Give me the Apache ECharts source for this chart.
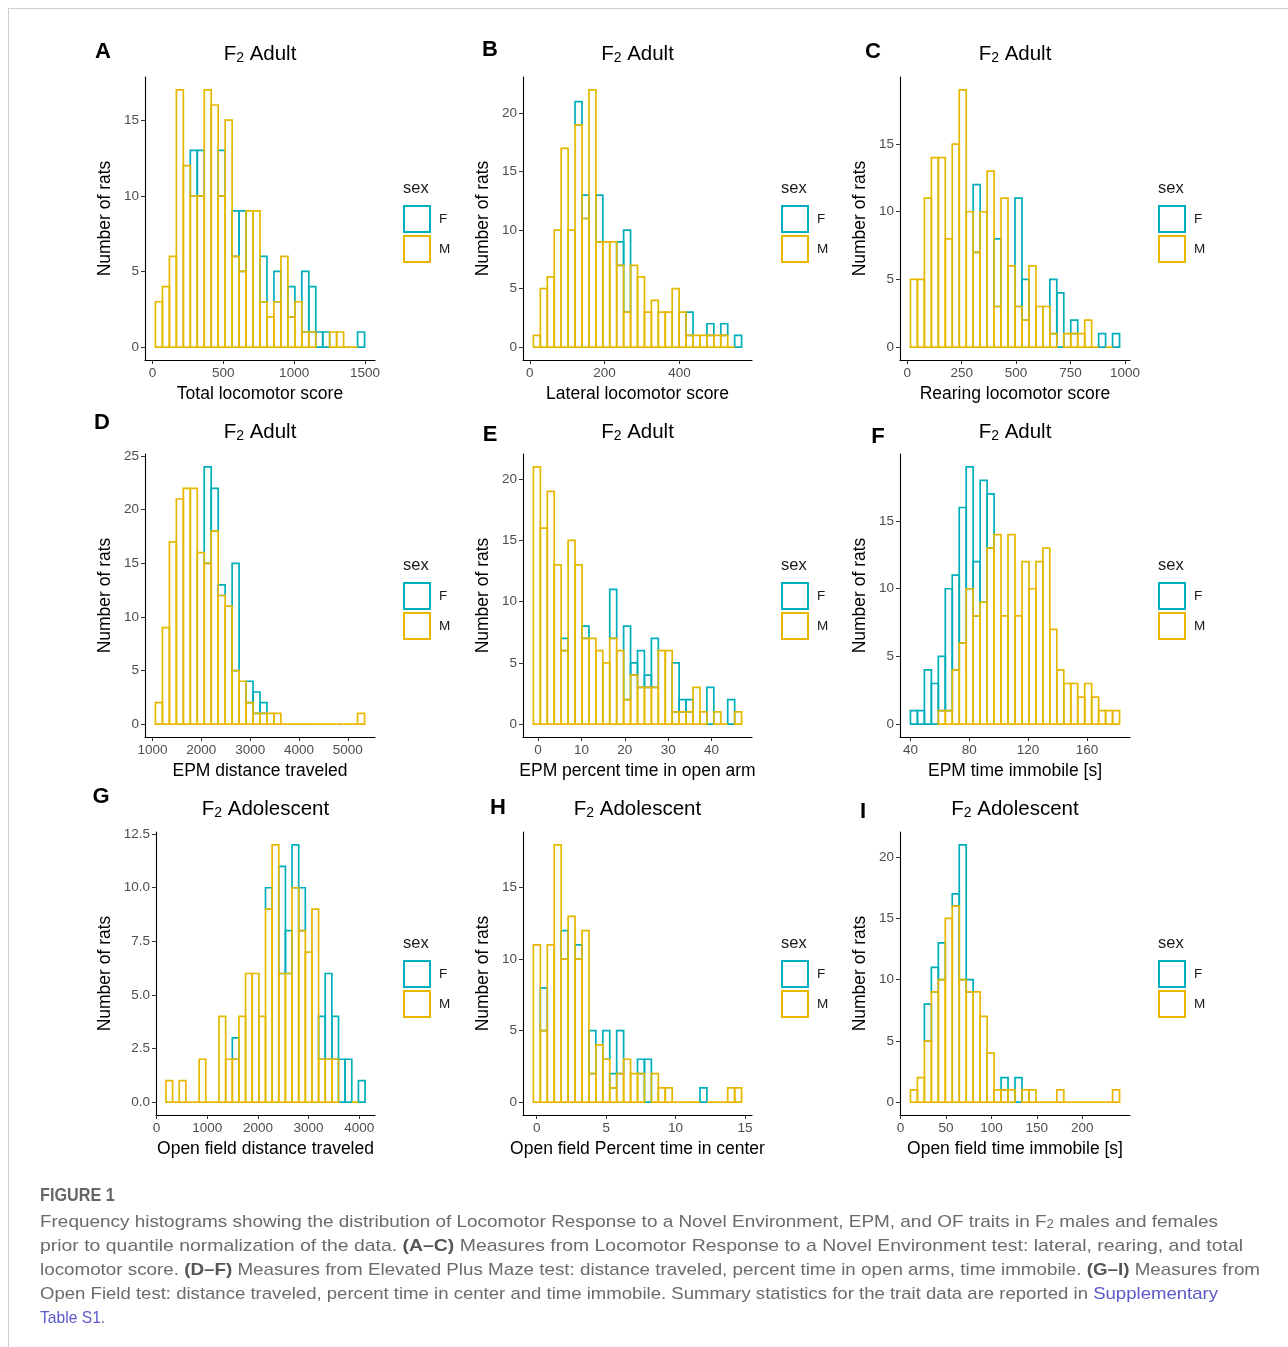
<!DOCTYPE html>
<html><head><meta charset="utf-8">
<script src="https://cdn.jsdelivr.net/npm/echarts@6/dist/echarts.min.js"></script>
<style>html,body{margin:0;padding:0;background:#fff}#c{width:1288px;height:1347px}</style>
</head><body><div id="c"></div><script>
// ---------------- DATA (counts per bin; F stacked on top of M) ----------------
const A_START = 21,   A_WIDTH = 49.2;
const A_M = [3,4,6,17,12,10,10,17,16,10,15,6,5,9,9,3,2,3,6,2,3,1,1,0,0,1,1,0,0,0];
const A_F = [0,0,0,0,0,3,3,0,0,3,0,3,4,0,0,3,0,2,0,2,0,4,3,1,1,0,0,0,0,1];
const A_XTICKS = [0,500,1000,1500];          const A_YTICKS = [0,5,10,15];

const B_START = 9.7,  B_WIDTH = 18.55;
const B_M = [1,5,6,10,17,10,19,11,22,9,9,9,7,3,7,6,3,4,3,3,5,3,1,1,1,1,1,1,0,0];
const B_F = [0,0,0,0,0,0,2,2,0,4,0,0,2,7,0,0,0,0,0,0,0,0,2,0,0,1,0,1,0,1];
const B_XTICKS = [0,200,400];                const B_YTICKS = [0,5,10,15,20];

const C_START = 15,   C_WIDTH = 32;
const C_M = [5,5,11,14,14,8,15,19,10,7,10,13,3,11,6,3,2,6,3,3,1,0,1,1,1,2,0,0,0,0];
const C_F = [0,0,0,0,0,0,0,0,0,5,0,0,5,0,0,8,3,0,0,0,4,4,0,1,0,0,0,1,0,1];
const C_XTICKS = [0,250,500,750,1000];       const C_YTICKS = [0,5,10,15];

const D_START = 1061, D_WIDTH = 142.7;
const D_M = [2,9,17,21,22,22,16,15,18,12,11,5,4,2,1,1,1,1,0,0,0,0,0,0,0,0,0,0,0,1];
const D_F = [0,0,0,0,0,0,0,9,4,1,0,10,0,2,2,1,0,0,0,0,0,0,0,0,0,0,0,0,0,0];
const D_XTICKS = [1000,2000,3000,4000,5000]; const D_YTICKS = [0,5,10,15,20,25];

const E_START = -1.07, E_WIDTH = 1.6;
const E_M = [21,16,19,13,6,15,13,7,7,6,5,7,6,2,4,3,3,3,6,6,1,1,1,3,1,0,1,0,0,1];
const E_F = [0,0,0,0,1,0,0,1,0,0,0,4,0,6,1,3,1,4,0,0,4,1,1,0,0,3,0,0,2,0];
const E_XTICKS = [0,10,20,30,40];            const E_YTICKS = [0,5,10,15,20];

const F_START = 40,   F_WIDTH = 4.74;
const F_M = [0,0,0,0,1,1,4,6,10,8,9,13,14,8,14,8,12,10,12,13,7,4,3,3,2,3,2,1,1,1];
const F_F = [1,1,4,3,4,9,7,10,9,4,9,4,0,0,0,0,0,0,0,0,0,0,0,0,0,0,0,0,0,0];
const F_XTICKS = [40,80,120,160];            const F_YTICKS = [0,5,10,15];

const G_START = 185,  G_WIDTH = 131;
const G_M = [1,0,1,0,0,2,0,0,4,2,2,4,6,6,4,9,12,6,6,10,8,7,9,2,2,2,0,0,0,0];
const G_F = [0,0,0,0,0,0,0,0,0,0,1,0,0,0,0,1,0,5,2,2,2,0,0,2,4,2,2,2,0,1];
const G_XTICKS = [0,1000,2000,3000,4000];    const G_YTICKS = [0,2.5,5,7.5,10,12.5];

const H_START = -0.24, H_WIDTH = 0.5;
const H_M = [11,5,11,18,10,13,10,12,2,4,3,1,2,3,2,2,0,2,1,1,0,0,0,0,0,0,0,0,1,1];
const H_F = [0,3,0,0,2,0,1,0,3,0,2,1,3,0,0,1,3,0,0,0,0,0,0,0,1,0,0,0,0,0];
const H_XTICKS = [0,5,10,15];                const H_YTICKS = [0,5,10,15];

const I_START = 10.9, I_WIDTH = 7.67;
const I_M = [1,2,5,9,10,15,16,10,9,9,7,4,1,1,1,0,1,1,0,0,0,1,0,0,0,0,0,0,0,1];
const I_F = [0,0,3,2,3,0,1,11,1,0,0,0,0,1,0,2,0,0,0,0,0,0,0,0,0,0,0,0,0,0];
const I_XTICKS = [0,50,100,150,200];         const I_YTICKS = [0,5,10,15,20];

const X_NAMES = ['Total locomotor score','Lateral locomotor score','Rearing locomotor score',
  'EPM distance traveled','EPM percent time in open arm','EPM time immobile [s]',
  'Open field distance traveled','Open field Percent time in center','Open field time immobile [s]'];
const STAGES = ['Adult','Adult','Adult','Adult','Adult','Adult','Adolescent','Adolescent','Adolescent'];
const LETTERS = ['A','B','C','D','E','F','G','H','I'];
const SEXES = ['F','M'];

// ---------------- LAYOUT ----------------
const COL_LEFT = [[145,523,900],[145,523,900],[156,523,900]];
const COL_RIGHT = [375,752,1130];
const ROW_TOP = [77,454,832];
const PANEL_H = 283;
const COLORS = {F:'#00AFBB', M:'#E7B800'};
const FONT = 'Liberation Sans, Arial, sans-serif';

const panels = [
  [A_START,A_WIDTH,A_M,A_F,A_XTICKS,A_YTICKS],
  [B_START,B_WIDTH,B_M,B_F,B_XTICKS,B_YTICKS],
  [C_START,C_WIDTH,C_M,C_F,C_XTICKS,C_YTICKS],
  [D_START,D_WIDTH,D_M,D_F,D_XTICKS,D_YTICKS],
  [E_START,E_WIDTH,E_M,E_F,E_XTICKS,E_YTICKS],
  [F_START,F_WIDTH,F_M,F_F,F_XTICKS,F_YTICKS],
  [G_START,G_WIDTH,G_M,G_F,G_XTICKS,G_YTICKS],
  [H_START,H_WIDTH,H_M,H_F,H_XTICKS,H_YTICKS],
  [I_START,I_WIDTH,I_M,I_F,I_XTICKS,I_YTICKS]
];

const grid=[], xAxis=[], yAxis=[], series=[], legend=[], graphic=[];
const LETTER_POS = [[103,52],[490,50],[873,52],[102,423],[490,435],[878,437],[101,797],[498,808],[863,812]];
const TITLE_Y = [49,427,804];
const LEG_X = [403,781,1158];
const LEG_Y = [205,582,960];

panels.forEach((p,k)=>{
  const [start,width,M,F,xt,yt]=p;
  const row=Math.floor(k/3), col=k%3;
  const left=COL_LEFT[row][col], right=COL_RIGHT[col], top=ROW_TOP[row];
  grid.push({left:left, top:top, width:right-left, height:PANEL_H});
  const n=M.length, lo=start, hi=start+n*width, span=hi-lo;
  let ymax=0; for(let i=0;i<n;i++) ymax=Math.max(ymax,M[i]+F[i]);
  const isG = k===6;
  xAxis.push({gridIndex:k, type:'value', min:lo-0.05*span, max:hi+0.05*span,
    axisLine:{show:true,onZero:false,lineStyle:{color:'#000',width:1.1}},
    axisTick:{show:true,length:4,customValues:xt,lineStyle:{color:'#333',width:1}},
    axisLabel:{customValues:xt,formatter:v=>String(v),color:'#4D4D4D',fontSize:13.5,margin:6,fontFamily:FONT},
    splitLine:{show:false},
    name:X_NAMES[k], nameLocation:'middle', nameGap:25,
    nameTextStyle:{fontSize:17.5,color:'#000',fontFamily:FONT}});
  yAxis.push({gridIndex:k, type:'value', min:-0.05*ymax, max:1.05*ymax,
    axisLine:{show:true,onZero:false,lineStyle:{color:'#000',width:1.1}},
    axisTick:{show:true,length:4,customValues:yt,lineStyle:{color:'#333',width:1}},
    axisLabel:{customValues:yt,formatter:v=>isG?v.toFixed(1):String(v),color:'#4D4D4D',fontSize:13.5,margin:6,fontFamily:FONT},
    splitLine:{show:false},
    name:'Number of rats', nameLocation:'middle', nameGap:isG?42:31, nameRotate:90,
    nameTextStyle:{fontSize:17.5,color:'#000',fontFamily:FONT}});
  const dataM=[], dataF=[];
  for(let i=0;i<n;i++){
    const x0=start+i*width, x1=start+(i+1)*width;
    dataM.push([x0,x1,0,M[i],F[i]]);
    dataF.push([x0,x1,M[i],M[i]+F[i],F[i]]);
  }
  const mk=(sex)=>function(params,api){
    const x0=api.value(0),x1=api.value(1),y0=api.value(2),y1=api.value(3),f=api.value(4);
    if(sex==='F' && f===0) return null;
    if(sex==='M' && y1===0 && f>0) return null;
    const a=api.coord([x0,y0]), b=api.coord([x1,y1]);
    return {type:'rect', shape:{x:a[0],y:b[1],width:b[0]-a[0],height:a[1]-b[1]},
      style:{fill:'none',stroke:COLORS[sex],lineWidth:1.7}};
  };
  series.push({type:'custom', name:'F', xAxisIndex:k, yAxisIndex:k, z:2, data:dataF, renderItem:mk('F'), silent:true});
  series.push({type:'custom', name:'M', xAxisIndex:k, yAxisIndex:k, z:3, data:dataM, renderItem:mk('M'), silent:true});
  legend.push({left:LEG_X[col], top:LEG_Y[row], orient:'vertical', itemWidth:26, itemHeight:26, itemGap:2, padding:0,
    icon:'rect', selectedMode:false, textStyle:{fontSize:13.5,color:'#1a1a1a',fontFamily:FONT,padding:[0,0,0,4]},
    data:SEXES.map(s=>({name:s,itemStyle:{color:'#fff',borderColor:COLORS[s],borderWidth:2}}))});
  graphic.push({type:'text', left:LEG_X[col], top:LEG_Y[row]-25,
    style:{text:'sex',fontSize:16.5,fill:'#1a1a1a',fontFamily:FONT}});
  const cx=(left+right)/2;
  graphic.push({type:'text', x:cx, y:TITLE_Y[row],
    style:{text:'{a|F}{s|2}{a| '+STAGES[k]+'}', align:'center', verticalAlign:'middle',
      rich:{a:{fontSize:20.5,fill:'#000',fontFamily:FONT,lineHeight:32,verticalAlign:'bottom'},
            s:{fontSize:14,fill:'#000',fontFamily:FONT,lineHeight:14,verticalAlign:'bottom'}}}});
  graphic.push({type:'text', x:LETTER_POS[k][0], y:LETTER_POS[k][1],
    style:{text:LETTERS[k], align:'center', verticalAlign:'middle', fontSize:22, fontWeight:'bold', fill:'#000', fontFamily:FONT}});
});

graphic.push({type:'line', shape:{x1:8,y1:8.5,x2:1288,y2:8.5}, style:{stroke:'#cfcfcf',lineWidth:1}});
graphic.push({type:'line', shape:{x1:8.5,y1:8,x2:8.5,y2:1347}, style:{stroke:'#cfcfcf',lineWidth:1}});

const CAP_FONT = 'Liberation Sans, Arial, sans-serif';
const CAP_SIZE = 17;
const CAPTION_LINES = [
  [['n','Frequency histograms showing the distribution of Locomotor Response to a Novel Environment, EPM, and OF traits in F'],['sub','2'],['n',' males and females']],
  [['n','prior to quantile normalization of the data. '],['b','(A\u2013C)'],['n',' Measures from Locomotor Response to a Novel Environment test: lateral, rearing, and total']],
  [['n','locomotor score. '],['b','(D\u2013F)'],['n',' Measures from Elevated Plus Maze test: distance traveled, percent time in open arms, time immobile. '],['b','(G\u2013I)'],['n',' Measures from']],
  [['n','Open Field test: distance traveled, percent time in center and time immobile. Summary statistics for the trait data are reported in '],['l','Supplementary']],
  [['l','Table S1'],['n','.']]
];
const CAP_RIGHT = [1218,1243,1260,1218,null];
const cv=document.createElement('canvas').getContext('2d');
const segFont={n:'normal '+CAP_SIZE+'px '+CAP_FONT, b:'bold '+CAP_SIZE+'px '+CAP_FONT, l:'normal '+CAP_SIZE+'px '+CAP_FONT, sub:'normal 12px '+CAP_FONT};
const capRich={
  n:{fontSize:CAP_SIZE,fill:'#6b6b6b',fontFamily:CAP_FONT,lineHeight:26,verticalAlign:'bottom'},
  b:{fontSize:CAP_SIZE,fill:'#555',fontWeight:'bold',fontFamily:CAP_FONT,lineHeight:26,verticalAlign:'bottom'},
  l:{fontSize:CAP_SIZE,fill:'#5a5ac8',fontFamily:CAP_FONT,lineHeight:26,verticalAlign:'bottom'},
  sub:{fontSize:12,fill:'#6b6b6b',fontFamily:CAP_FONT,lineHeight:12,verticalAlign:'bottom'}
};
CAPTION_LINES.forEach((segs,i)=>{
  let w=0; segs.forEach(([t,s])=>{cv.font=segFont[t]; w+=cv.measureText(s).width;});
  const sx = CAP_RIGHT[i] ? (CAP_RIGHT[i]-40)/w : 0.92;
  graphic.push({type:'text', x:40, y:1218+i*24, scaleX:sx,
    style:{text:segs.map(([t,s])=>'{'+t+'|'+s+'}').join(''), rich:capRich, verticalAlign:'middle'}});
});
graphic.push({type:'text', x:40, y:1196, scaleX:0.9,
  style:{text:'FIGURE 1', fontSize:18, fontWeight:'bold', fill:'#666', fontFamily:CAP_FONT, verticalAlign:'middle'}});

const chart=echarts.init(document.getElementById('c'),null,{renderer:'canvas'});
chart.setOption({animation:false, backgroundColor:'#fff', textStyle:{fontFamily:FONT},
  grid, xAxis, yAxis, series, legend, graphic});
</script></body></html>
